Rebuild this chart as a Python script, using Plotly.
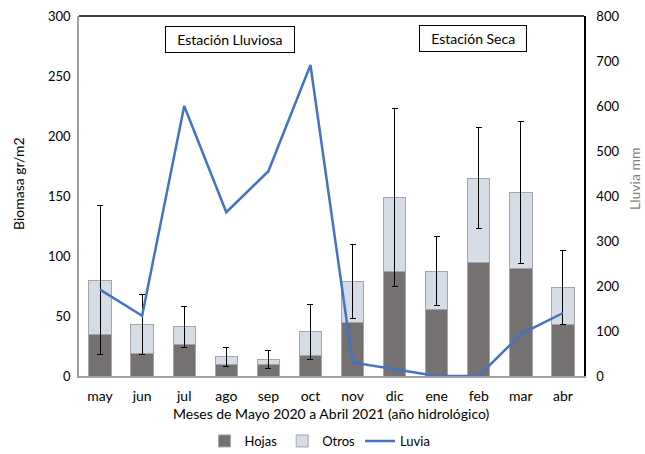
import plotly.graph_objects as go

meses = ["may", "jun", "jul", "ago", "sep", "oct", "nov", "dic", "ene", "feb", "mar", "abr"]
hojas = [35, 19, 26, 10, 10, 17.5, 45, 87, 55.5, 94.5, 90, 43]
otros = [45, 24, 15, 6, 4, 19.5, 34, 62, 32, 70.5, 63, 31]
error_total = [62, 25, 17, 8, 7.5, 23, 31, 74, 28.5, 42, 59, 31]
lluvia = [192, 134, 600, 364, 455, 691, 30, 15, 0, 0, 93, 140]

FONT = "Lato"
L, R, T, B = 79, 61, 16, 78
W, H = 645, 454
PW, PH = W - L - R, H - T - B


def px(x):
    return (x - L) / PW


def py(y):
    return (H - B - y) / PH


fig = go.Figure()
fig.add_trace(go.Bar(x=meses, y=hojas, name="Hojas",
                     marker=dict(color="#767171", line=dict(color="#A5A5A5", width=1))))
fig.add_trace(go.Bar(x=meses, y=otros, name="Otros",
                     marker=dict(color="#D6DCE5", line=dict(color="#A5A5A5", width=1)),
                     error_y=dict(type="data", array=error_total, color="#000000",
                                  thickness=1, width=3)))
fig.add_trace(go.Scatter(x=meses, y=lluvia, name="Luvia", yaxis="y2", mode="lines",
                         line=dict(color="#4472C4", width=2.5)))

ann_common = dict(xref="paper", yref="paper", showarrow=False,
                  xanchor="center", yanchor="middle")
fig.update_layout(
    width=W, height=H,
    margin=dict(l=L, r=R, t=T, b=B, autoexpand=False),
    barmode="stack", bargap=0.47,
    plot_bgcolor="white", paper_bgcolor="white",
    font=dict(family=FONT, size=13, color="#000000"),
    xaxis=dict(showline=True, linecolor="#A0A0A0", linewidth=1.5, ticks="",
               tickfont=dict(size=14), automargin=False, ticklabelstandoff=6),
    yaxis=dict(range=[0, 300], dtick=50, showgrid=False, showline=True,
               linecolor="#A0A0A0", linewidth=1.5, ticks="", zeroline=False,
               tickfont=dict(size=13), automargin=False, ticklabelstandoff=4),
    yaxis2=dict(range=[0, 800], dtick=100, overlaying="y", side="right",
                showgrid=False, showline=True, linecolor="#000000", linewidth=1.5,
                ticks="", zeroline=False, tickfont=dict(size=13), automargin=False,
                ticklabelstandoff=8),
    legend=dict(orientation="h", x=px(320), xanchor="center", y=py(441), yanchor="middle",
                font=dict(size=13), traceorder="normal"),
    showlegend=True,
    shapes=[dict(type="line", xref="paper", yref="paper", x0=0, x1=1, y0=1, y1=1,
                 line=dict(color="#000000", width=1.5))],
    annotations=[
        dict(text="  Estación Lluviosa  ", x=px(230), y=py(39),
             font=dict(size=14), bordercolor="#000000", borderwidth=1,
             borderpad=4, bgcolor="white", **ann_common),
        dict(text="  Estación Seca  ", x=px(473), y=py(38.5),
             font=dict(size=14), bordercolor="#000000", borderwidth=1,
             borderpad=4, bgcolor="white", **ann_common),
        dict(text="Biomasa gr/m2", x=px(18), y=py(184),
             textangle=-90, font=dict(size=14), **ann_common),
        dict(text="Lluvia mm", x=px(635), y=py(179),
             textangle=-90, font=dict(size=14, color="#7F7F7F"), **ann_common),
        dict(text="Meses de Mayo 2020 a Abril 2021 (año hidrológico)",
             x=px(331), y=py(413), font=dict(size=14), **ann_common),
    ],
)
fig.write_html("out.html", config={"displayModeBar": False},
               post_script="document.body.style.margin='0';document.body.style.overflow='hidden';")
